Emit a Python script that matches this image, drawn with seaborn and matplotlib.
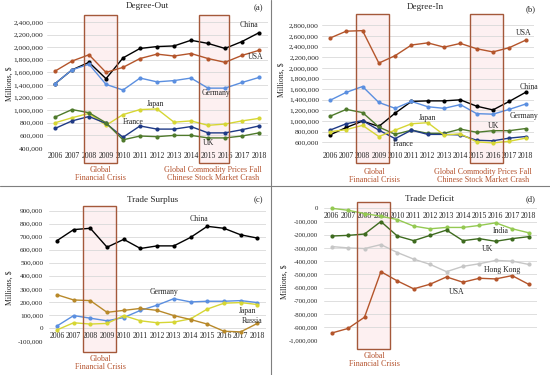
"""
Four-panel trade network chart: degree-out, degree-in, trade surplus, trade deficit
"""
import pandas as pd
import seaborn as sns
import matplotlib

matplotlib.use('Agg')
import matplotlib.pyplot as plt
import matplotlib.patches as mpatches
import matplotlib.transforms as mtransforms
from matplotlib.lines import Line2D
from matplotlib.ticker import FuncFormatter, MultipleLocator

# ==================== data ====================
years = [2006, 2007, 2008, 2009, 2010, 2011, 2012, 2013, 2014, 2015, 2016, 2017, 2018]

# (a) Degree-Out
out_china = [1420000, 1640000, 1760000, 1500000, 1830000, 1980000, 2010000, 2020000, 2110000, 2060000, 1980000, 2090000, 2230000]
out_usa = [1620000, 1780000, 1880000, 1600000, 1680000, 1820000, 1890000, 1860000, 1900000, 1820000, 1760000, 1870000, 1950000]
out_germany = [1420000, 1640000, 1730000, 1410000, 1320000, 1510000, 1450000, 1470000, 1510000, 1350000, 1350000, 1440000, 1520000]
out_japan = [800000, 880000, 950000, 760000, 930000, 1010000, 1020000, 810000, 830000, 760000, 780000, 830000, 870000]
out_france = [710000, 830000, 900000, 790000, 570000, 750000, 700000, 700000, 740000, 640000, 640000, 690000, 750000]
out_uk = [890000, 1010000, 960000, 800000, 530000, 590000, 580000, 600000, 600000, 560000, 560000, 590000, 640000]

# (b) Degree-In
in_usa = [2560000, 2690000, 2700000, 2090000, 2230000, 2430000, 2470000, 2390000, 2460000, 2360000, 2300000, 2380000, 2520000]
in_china = [740000, 880000, 1000000, 900000, 1150000, 1370000, 1380000, 1380000, 1400000, 1280000, 1210000, 1370000, 1540000]
in_germany = [1390000, 1540000, 1650000, 1350000, 1240000, 1370000, 1270000, 1240000, 1310000, 1140000, 1130000, 1220000, 1320000]
in_uk = [1090000, 1220000, 1160000, 890000, 750000, 830000, 770000, 770000, 850000, 790000, 820000, 820000, 860000]
in_france = [830000, 950000, 1010000, 830000, 670000, 830000, 750000, 750000, 740000, 640000, 630000, 680000, 710000]
in_japan = [800000, 840000, 920000, 710000, 830000, 950000, 970000, 740000, 760000, 610000, 590000, 620000, 680000]

# (c) Trade Surplus
sur_china = [670000, 755000, 765000, 620000, 680000, 610000, 630000, 630000, 695000, 780000, 765000, 715000, 690000]
sur_germany = [15000, 95000, 75000, 55000, 80000, 135000, 175000, 225000, 200000, 205000, 205000, 210000, 195000]
sur_japan = [-15000, 40000, 30000, 35000, 95000, 55000, 40000, 45000, 70000, 145000, 190000, 195000, 180000]
sur_russia = [255000, 215000, 210000, 120000, 135000, 150000, 135000, 95000, 65000, 30000, -25000, -30000, 35000]

# (d) Trade Deficit
def_india = [0, -15000, -40000, -60000, -85000, -135000, -155000, -145000, -145000, -130000, -110000, -155000, -185000]
def_uk = [-210000, -205000, -195000, -100000, -210000, -245000, -205000, -165000, -245000, -230000, -250000, -230000, -215000]
def_hongkong = [-290000, -300000, -305000, -275000, -335000, -385000, -425000, -480000, -440000, -420000, -395000, -400000, -425000]
def_usa = [-945000, -910000, -825000, -480000, -550000, -610000, -575000, -520000, -560000, -530000, -535000, -510000, -575000]

COLORS = {
    'China': '#000000',
    'USA': '#B4552B',
    'Germany': '#5B8FE0',
    'Japan': '#D6D634',
    'France': '#1F3A86',
    'UK': '#4F7A2C',
    'Russia': '#B8892A',
    'India': '#94C952',
    'Hong Kong': '#C6C6C6',
}
RED_TEXT = '#B5532E'
BOX_EDGE = '#A4583A'

# ==================== style ====================
sns.set_style('white')
plt.rcParams['font.family'] = ['Liberation Serif', 'DejaVu Serif']

W, H = 550, 375
fig = plt.figure(figsize=(W / 100, H / 100), dpi=100)


def px(x, y):
    return x / W, 1 - y / H


def make_axes(left, right, top, bottom):
    return fig.add_axes([left / W, 1 - bottom / H, (right - left) / W, (bottom - top) / H])


def to_long(series):
    rows = []
    for name, vals in series.items():
        for yr, v in zip(years, vals):
            rows.append({'year': yr, 'value': v, 'country': name})
    return pd.DataFrame(rows)


def draw_panel(ax, series, ylim, step, boxes, box_y, labels, colors=COLORS, ytick_size=5.4, ypad=2):
    df = to_long(series)
    sns.lineplot(data=df, x='year', y='value', hue='country', palette=colors,
                 marker='o', markersize=3, markeredgewidth=0, linewidth=1.0,
                 legend=False, ax=ax, clip_on=False, zorder=3)
    ax.set_xlim(2005.5, 2018.5)
    ax.set_ylim(*ylim)
    ax.yaxis.set_major_locator(MultipleLocator(step))
    ax.yaxis.set_major_formatter(FuncFormatter(lambda v, p: f"{v:,.0f}"))
    ax.set_xticks(years)
    ax.set_xticklabels([str(y) for y in years])
    ax.grid(axis='y', color='#D9D9D9', linewidth=0.6, zorder=0)
    for s in ax.spines.values():
        s.set_visible(False)
    base = 0 if ylim[0] < 0 else ylim[0]
    ax.spines['bottom'].set_position(('data', base))
    ax.tick_params(axis='x', length=0, pad=3, labelsize=5.6)
    ax.tick_params(axis='y', length=0, pad=ypad, labelsize=ytick_size)
    ax.set_xlabel('')
    ax.set_ylabel('')
    trans = mtransforms.blended_transform_factory(ax.transData, ax.transAxes)
    for x0, x1 in boxes:
        # faint fill kept below axis labels, outline on top
        ax.add_patch(mpatches.Rectangle((x0, box_y[0]), x1 - x0, box_y[1] - box_y[0],
                                        transform=trans, clip_on=False,
                                        facecolor='#FCE6E8', alpha=0.6, edgecolor='none', zorder=0.2))
        ax.add_patch(mpatches.Rectangle((x0, box_y[0]), x1 - x0, box_y[1] - box_y[0],
                                        transform=trans, clip_on=False,
                                        facecolor='none', edgecolor=BOX_EDGE, linewidth=1.0, zorder=4))
    for text, x, y in labels:
        ax.text(x, y, text, fontsize=5.6, ha='center', va='center', zorder=5)


# (a) Degree-Out
ax_a = make_axes(46.5, 267.5, 22, 148)
draw_panel(ax_a,
           {'China': out_china, 'USA': out_usa, 'Germany': out_germany,
            'Japan': out_japan, 'France': out_france, 'UK': out_uk},
           (400000, 2400000), 200000,
           [(2007.7, 2009.65), (2014.45, 2016.25)], (-0.119, 1.056),
           [('China', 2017.4, 2350000), ('USA', 2017.8, 1840000), ('Germany', 2015.5, 1275000),
            ('Japan', 2011.9, 1100000), ('France', 2010.6, 815000), ('UK', 2015.0, 480000)])

# (b) Degree-In
ax_b = make_axes(321.8, 533.7, 20, 147.7)
draw_panel(ax_b,
           {'USA': in_usa, 'China': in_china, 'Germany': in_germany,
            'UK': in_uk, 'France': in_france, 'Japan': in_japan},
           (500000, 2900000), 200000,
           [(2007.6, 2009.64), (2014.59, 2016.6)], (-0.12, 1.047),
           [('USA', 2017.9, 2650000), ('China', 2018.2, 1635000), ('Germany', 2017.9, 1100000),
            ('UK', 2016.0, 908000), ('Japan', 2012.0, 1052000), ('France', 2010.5, 570000)])

# (c) Trade Surplus
ax_c = make_axes(48.6, 265.7, 210.7, 341)
draw_panel(ax_c,
           {'China': sur_china, 'Germany': sur_germany, 'Japan': sur_japan, 'Russia': sur_russia},
           (-100000, 900000), 100000,
           [(2007.54, 2009.53)], (-0.082, 1.038),
           [('China', 2014.5, 836000), ('Germany', 2012.4, 274000),
            ('Japan', 2017.4, 130000), ('Russia', 2017.7, 53000)],
           ytick_size=5.2, ypad=4)

# (d) Trade Deficit
colors_d = dict(COLORS)
colors_d['UK'] = '#3E6B1F'
ax_d = make_axes(323.5, 536.7, 208.3, 340.3)
draw_panel(ax_d,
           {'India': def_india, 'UK': def_uk, 'Hong Kong': def_hongkong, 'USA': def_usa},
           (-1000000, 0), 100000,
           [(2007.52, 2009.55)], (-0.066, 1.05),
           [('India', 2016.3, -172000), ('UK', 2015.5, -311000),
            ('Hong Kong', 2016.4, -467000), ('USA', 2013.6, -636000)],
           colors=colors_d, ytick_size=4.9, ypad=4)

# titles and panel letters
for title, tx, ty, letter, lx, ly in [
    ('Degree-Out', 147, 6, '(a)', 258, 8),
    ('Degree-In', 425, 7, '(b)', 531, 9),
    ('Trade Surplus', 153, 200, '(c)', 258, 200),
    ('Trade Deficit', 430, 199, '(d)', 531, 199),
]:
    fig.text(*px(tx, ty), title, fontsize=6.6, ha='center', va='center')
    fig.text(*px(lx, ly), letter, fontsize=6.2, ha='center', va='center')

# y axis labels
for x, y in [(10, 84), (282, 80), (10, 288), (285, 282)]:
    fig.text(*px(x, y), 'Millions, $', fontsize=5.6, rotation=90, ha='center', va='center')

# event annotations
crisis = 'Global\nFinancial Crisis'
commodity = 'Global Commodity Prices Fall\nChinese Stock Market Crash'
for text, x, y in [(crisis, 100, 174), (commodity, 213, 174), (crisis, 374, 176),
                   (commodity, 483, 176), (crisis, 100, 363), (crisis, 374, 360)]:
    fig.text(*px(x, y), text, fontsize=5.8, color=RED_TEXT, ha='center', va='center', linespacing=1.1)

# panel dividers
fig.add_artist(Line2D([271 / W, 271 / W], [0, 1], color='#7F7F7F', linewidth=0.8))
fig.add_artist(Line2D([0, 1], [1 - 186 / H, 1 - 186 / H], color='#7F7F7F', linewidth=0.8))

plt.savefig('out.png', dpi=100)
plt.close('all')
